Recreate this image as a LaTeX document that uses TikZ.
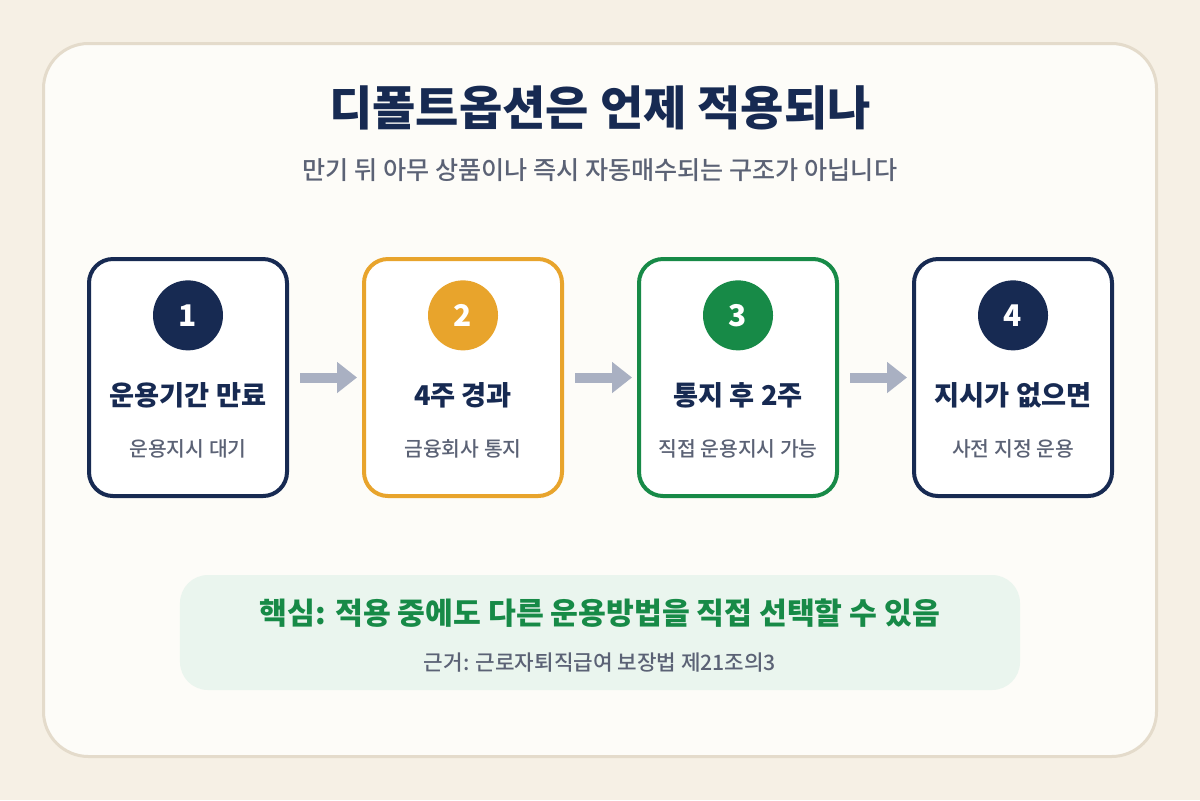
\documentclass[tikz,border=0pt]{standalone}
\usepackage{fontspec}
\setmainfont{Noto Sans CJK KR}
\newfontfamily\krmed{Noto Sans CJK KR Medium}
\usepackage{xcolor}
\usetikzlibrary{arrows.meta,positioning,calc}

\definecolor{navy}{HTML}{172A52}
\definecolor{amber}{HTML}{E8A42C}
\definecolor{leaf}{HTML}{178A47}
\definecolor{slate}{HTML}{5B6275}
\definecolor{arrowgray}{HTML}{A9B0C2}
\definecolor{bgout}{HTML}{F6F0E5}
\definecolor{card}{HTML}{FDFCF8}
\definecolor{cardline}{HTML}{E4DBCB}
\definecolor{keyfill}{HTML}{EAF5EE}

\begin{document}
\begin{tikzpicture}[
    x=0.2mm,y=-0.2mm,
    stepbox/.style={rectangle,draw,line width=0.8mm,rounded corners=4.8mm,fill=white,
        minimum width=39.6mm,minimum height=47.4mm,inner sep=0pt},
    num/.style={circle,minimum size=14mm,inner sep=0pt,text=white,
        font=\fontsize{17}{17}\selectfont\bfseries},
    lbl/.style={text=navy,font=\fontsize{15.5}{15.5}\selectfont\bfseries},
    sub/.style={text=slate,font=\fontsize{11.6}{11.6}\selectfont\krmed},
    flow/.style={-{Triangle[length=4mm,width=6mm]},draw=arrowgray,line width=2mm,
        shorten <=2.2mm,shorten >=1mm},
    node distance=14.6mm,
]
% ---- page and card ----
\fill[bgout] (0,0) rectangle (1200,800);
\useasboundingbox (0,0) rectangle (1200,800);
\draw[cardline,line width=0.6mm,fill=card,rounded corners=9mm] (43.5,43.5) rectangle (1156.5,756.5);

% ---- heading ----
\node[text=navy,font=\fontsize{26.8}{26.8}\selectfont\bfseries] (title) at (600,108) {디폴트옵션은 언제 적용되나};
\node[text=slate,font=\fontsize{14.3}{14.3}\selectfont\krmed] (subtitle) at (600,170) {만기 뒤 아무 상품이나 즉시 자동매수되는 구조가 아닙니다};

% ---- four steps ----
\node[stepbox,draw=navy] (b1) at (188,377.5) {};
\node[stepbox,draw=amber,right=of b1] (b2) {};
\node[stepbox,draw=leaf,right=of b2] (b3) {};
\node[stepbox,draw=navy,right=of b3] (b4) {};

\node[num,fill=navy,below=4.6mm of b1.north] (n1) {1};
\node[num,fill=amber,below=4.6mm of b2.north] (n2) {2};
\node[num,fill=leaf,below=4.6mm of b3.north] (n3) {3};
\node[num,fill=navy,below=4.6mm of b4.north] (n4) {4};

\node[lbl] (l1) at ($(b1.north)+(0,138)$) {운용기간 만료};
\node[lbl] (l2) at ($(b2.north)+(0,138)$) {4주 경과};
\node[lbl] (l3) at ($(b3.north)+(0,138)$) {통지 후 2주};
\node[lbl] (l4) at ($(b4.north)+(0,138)$) {지시가 없으면};

\node[sub] (s1) at ($(b1.north)+(0,192)$) {운용지시 대기};
\node[sub] (s2) at ($(b2.north)+(0,192)$) {금융회사 통지};
\node[sub] (s3) at ($(b3.north)+(0,192)$) {직접 운용지시 가능};
\node[sub] (s4) at ($(b4.north)+(0,192)$) {사전 지정 운용};

\draw[flow] (b1) -- (b2);
\draw[flow] (b2) -- (b3);
\draw[flow] (b3) -- (b4);

% ---- key point ----
\node[rectangle,fill=keyfill,rounded corners=5.6mm,minimum width=168mm,minimum height=23mm] (key) at (600,632.5) {};
\node[text=leaf,font=\fontsize{17.2}{17.2}\selectfont\bfseries] (keytext) at ($(key.center)+(0,-19.5)$) {핵심: 적용 중에도 다른 운용방법을 직접 선택할 수 있음};
\node[text=slate,font=\fontsize{12.1}{12.1}\selectfont\krmed] (basis) at ($(key.center)+(0,30.5)$) {근거: 근로자퇴직급여 보장법 제21조의3};
\end{tikzpicture}
\end{document}
